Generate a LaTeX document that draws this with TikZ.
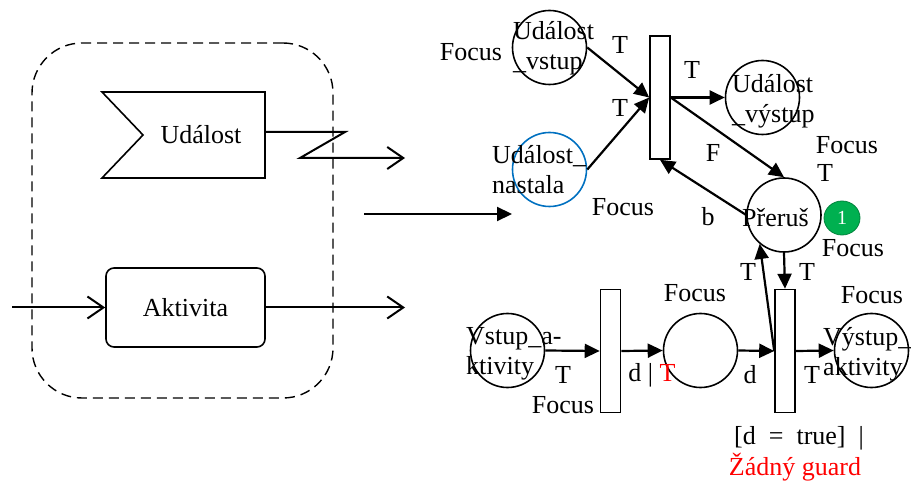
\documentclass[tikz,border=0pt]{standalone}
\usepackage{fontspec}
\setmainfont{Liberation Serif}
\usepackage{tikz}
\usetikzlibrary{arrows.meta,shapes.geometric}
\definecolor{tokgreen}{RGB}{0,176,80}
\definecolor{tokedge}{RGB}{0,130,60}
\definecolor{placeblue}{RGB}{0,112,192}

\begin{document}
\begin{tikzpicture}[x=1pt, y=-1pt,
        font=\fontsize{26}{30}\selectfont,
        place/.style={circle, draw=black, line width=1.6pt, minimum size=74pt, inner sep=0pt},
        trans/.style={rectangle, draw=black, line width=1.6pt, minimum width=20pt, minimum height=123pt, inner sep=0pt},
        ptext/.style={anchor=west, align=left, inner sep=0pt},
        lbl/.style={inner sep=0pt},
        arrow/.style={-{Triangle[length=15pt, width=14pt]}, line width=2.2pt},
        openarrow/.style={-{Straight Barb[length=16pt, width=22pt, line width=2pt]}, line width=2pt}]

        \useasboundingbox (0,0) rectangle (911,481);

        % left block
        \node[rectangle, draw=black, dashed, dash pattern=on 10pt off 6pt, line width=1.4pt, rounded corners=50pt,
              minimum width=301pt, minimum height=355pt] (grp) at (182.5,220.5) {};
        \draw[line width=1.6pt] (102,92) -- (265,92) -- (265,178) -- (102,178) -- (143,135) -- cycle;
        \node[lbl] (evt) at (201,135) {Událost};
        \node[rectangle, draw=black, line width=1.6pt, rounded corners=8pt, minimum width=159pt, minimum height=79pt] (akt) at (185.5,307.5) {Aktivita};

        \coordinate (evtout) at (265,132);
        \coordinate (evtend) at (405,158);
        \coordinate (ain) at (12,307.5);
        \coordinate (aout) at (405,307.5);
        \coordinate (m1) at (364,214);
        \coordinate (m2) at (512,214);

        \draw[openarrow] (evtout) -- (345,132) -- (300,158) -- (evtend);
        \draw[openarrow] (ain) -- (akt.west);
        \draw[openarrow] (akt.east) -- (aout);
        \draw[arrow] (m1) -- (m2);

        % Petri net
        \node[place] (vstup) at (549.5,47.5) {};
        \node[place, draw=placeblue] (nastala) at (549.5,169.5) {};
        \node[place] (vystup) at (762.5,97.5) {};
        \node[place] (prerus) at (784,215) {};
        \node[place] (vstupA) at (507.5,350.5) {};
        \node[place] (mid) at (700.5,350.5) {};
        \node[place] (vystupA) at (871.5,350.5) {};
        \node[trans] (t1) at (660,97.5) {};
        \node[trans] (tA) at (610.5,351) {};
        \node[trans] (t3) at (785,351) {};
        \node[ellipse, draw=tokedge, fill=tokgreen, line width=0.8pt, minimum width=36pt, minimum height=34pt, inner sep=0pt,
              text=white, font=\fontsize{20}{22}\selectfont] (tok) at (842,218) {1};

        \node[ptext] (vstupT) at (513,48) {Událost\\\_vstup};
        \node[ptext] (nastalaT) at (492,170) {Událost\_\\nastala};
        \node[ptext] (vystupT) at (732,101) {Událost\\\_výstup};
        \node[ptext] (prerusT) at (742,218) {Přeruš};
        \node[ptext] (vstupAT) at (466,354) {Vstup\_a-\\ktivity};
        \node[ptext] (vystupAT) at (823,354) {Výstup\_\\aktivity};

        \draw[arrow] (vstup.east) -- (t1.west);
        \draw[arrow] (nastala.east) -- (t1.west);
        \draw[arrow] (t1.east) -- (vystup.west);
        \draw[arrow] (t1.east) -- (prerus.north);
        \draw[arrow] (prerus.west) -- (t1.south);
        \draw[arrow] (t3.west) -- (prerus.230);
        \draw[arrow] (prerus.south) -- (t3.north);
        \draw[arrow] (vstupA.east) -- (tA.west);
        \draw[arrow] (tA.east) -- (mid.west);
        \draw[arrow] (mid.east) -- (t3.west);
        \draw[arrow] (t3.east) -- (vystupA.west);

        % inscriptions
        \node[lbl] (f1) at (471,52) {Focus};
        \node[lbl] (a1) at (620,45) {T};
        \node[lbl] (a2) at (620,108) {T};
        \node[lbl] (a3) at (692,70) {T};
        \node[lbl] (a4) at (713,153) {F};
        \node[lbl] (f2) at (623,207) {Focus};
        \node[lbl] (a5) at (708,217) {b};
        \node[lbl] (f3) at (847,145) {Focus};
        \node[lbl] (a6) at (825,173) {T};
        \node[lbl] (f4) at (853,248) {Focus};
        \node[lbl] (a7) at (748,272) {T};
        \node[lbl] (a8) at (807,272) {T};
        \node[lbl] (f5) at (695,293) {Focus};
        \node[lbl] (f6) at (872,295) {Focus};
        \node[lbl] (a9) at (563,375) {T};
        \node[lbl] (f7) at (563,405) {Focus};
        \node[lbl] (a10) at (652,375) {d | \textcolor{red}{T}};
        \node[lbl] (a11) at (750,375) {d};
        \node[lbl] (a12) at (812,375) {T};
        \node[lbl] (g1) at (799,438) {[d\ \ =\ \ true]\ \ |};
        \node[lbl, text=red] (g2) at (795,467) {Žádný guard};

    \end{tikzpicture}
\end{document}
